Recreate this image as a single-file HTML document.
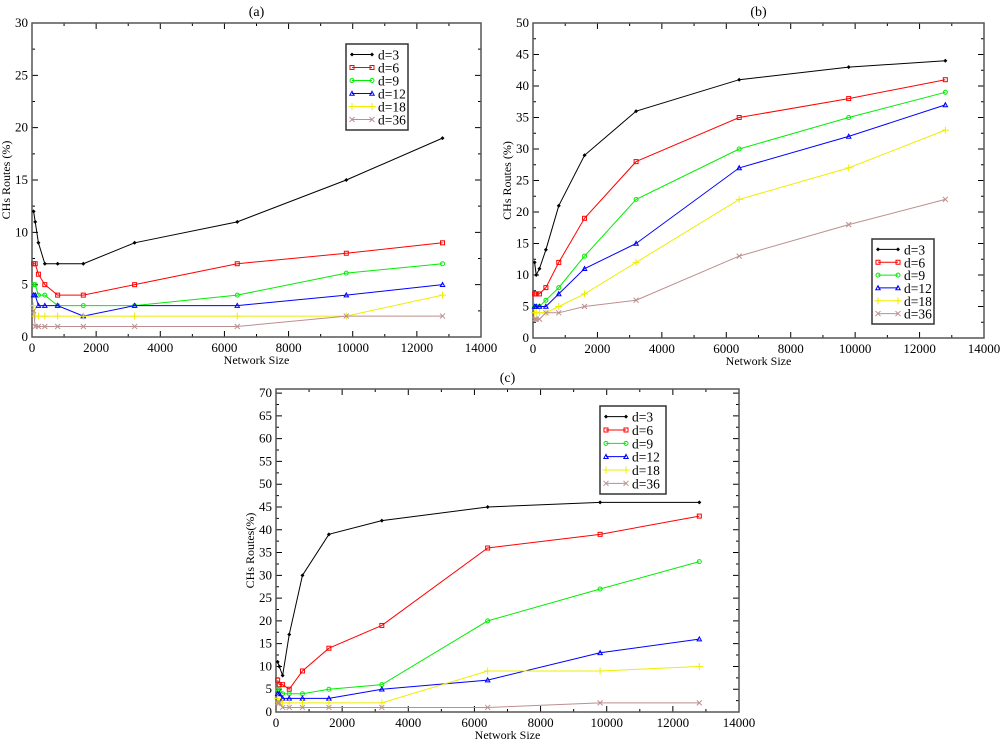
<!DOCTYPE html>
<html><head><meta charset="utf-8"><style>
body{margin:0;background:#fff;width:1000px;height:740px;overflow:hidden}
svg{font-family:"Liberation Serif",serif}
</style></head><body>
<svg id="c" width="1000" height="740"></svg>
<script>
const xValues=[50,100,200,400,800,1600,3200,6400,9800,12800];
const seriesNames=["d=3","d=6","d=9","d=12","d=18","d=36"];
const aD3=[12,11,9,7,7,7,9,11,15,19];
const aD6=[7,7,6,5,4,4,5,7,8,9];
const aD9=[5,5,4,4,3,3,3,4,6.1,7];
const aD12=[4,4,3,3,3,2,3,3,4,5];
const aD18=[3,2,2,2,2,2,2,2,2,4];
const aD36=[2.5,1,1,1,1,1,1,1,2,2];
const bD3=[12,10,11,14,21,29,36,41,43,44];
const bD6=[7,7,7,8,12,19,28,35,38,41];
const bD9=[5,5,5,6,8,13,22,30,35,39];
const bD12=[5,5,5,5,7,11,15,27,32,37];
const bD18=[4,4,4,4,5,7,12,22,27,33];
const bD36=[3,3,3,4,4,5,6,13,18,22];
const cD3=[11,10,8,17,30,39,42,45,46,46];
const cD6=[7,6,6,5,9,14,19,36,39,43];
const cD9=[5,5,4,4,4,5,6,20,27,33];
const cD12=[4,4,3,3,3,3,5,7,13,16];
const cD18=[3,2,2,2,2,2,2,9,9,10];
const cD36=[2,2,1,1,1,1,1,1,2,2];
const xTicks=[0,2000,4000,6000,8000,10000,12000,14000];
const colors=["#000","#f00","#0e0","#00f","#ee0","#bc8f8f"];
const markers=["diamond","square","circle","triangle","plus","cross"];
const NS="http://www.w3.org/2000/svg";
const svg=document.getElementById('c');
function mk(t,a,p){const e=document.createElementNS(NS,t);for(const k in a)e.setAttribute(k,a[k]);(p||svg).appendChild(e);return e;}
function marker(g,m,x,y,c){
 if(m==="diamond")mk('path',{d:`M${x-2},${y}L${x},${y-2}L${x+2},${y}L${x},${y+2}Z`,fill:c},g);
 else if(m==="square")mk('rect',{x:x-2,y:y-2,width:4,height:4,fill:'none',stroke:c},g);
 else if(m==="circle")mk('circle',{cx:x,cy:y,r:2,fill:'none',stroke:c},g);
 else if(m==="triangle")mk('path',{d:`M${x-2.2},${y+1.8}L${x},${y-2.2}L${x+2.2},${y+1.8}Z`,fill:'none',stroke:c},g);
 else if(m==="plus")mk('path',{d:`M${x-3.5},${y}H${x+3.5}M${x},${y-3.5}V${y+3.5}`,stroke:c},g);
 else mk('path',{d:`M${x-2.5},${y-2.5}L${x+2.5},${y+2.5}M${x-2.5},${y+2.5}L${x+2.5},${y-2.5}`,stroke:c},g);
}
function panel(o){
 const g=mk('g',{});
 
 
 const sx=v=>o.l+(v/14000)*(o.r-o.l);
 const sy=v=>o.b-(v/o.ymax)*(o.b-o.t);
 const t=mk('text',{x:(o.l+o.r)/2,y:o.t-7,'text-anchor':'middle','font-size':14},g);t.textContent='('+o.id+')';
 
 for(let v=0;v<=14000;v+=1000){const x=sx(v),L=v%2000?3:6;
  mk('path',{d:`M${x},${o.b}v${-L}M${x},${o.t}v${L}`,stroke:'#000'},g);}
 xTicks.forEach(v=>{const e=mk('text',{x:sx(v),y:o.b+15,'text-anchor':'middle','font-size':13},g);e.textContent=v;
  });
 for(let v=0;v<=o.ymax+0.01;v+=2.5){const y=sy(v),L=(v%5)?3:6;
  mk('path',{d:`M${o.l},${y}h${L}M${o.r},${y}h${-L}`,stroke:'#000'},g);}
 for(let v=0;v<=o.ymax;v+=5){const e=mk('text',{x:o.l-4,y:sy(v)+4,'text-anchor':'end','font-size':13},g);e.textContent=v;
  }
 mk('rect',{x:o.l,y:o.t,width:o.r-o.l,height:o.b-o.t,fill:'none',stroke:'#555','stroke-width':1.5},g);
 const xt=mk('text',{x:(o.l+o.r)/2,y:o.b+27,'text-anchor':'middle','font-size':12},g);xt.textContent='Network Size';
 
 const yc=(o.t+o.b)/2;
 const yt=mk('text',{x:o.l-22,y:yc,'text-anchor':'middle','font-size':12,transform:`rotate(-90 ${o.l-22} ${yc})`},g);yt.textContent=o.ytitle;
 
 o.series.forEach((s,i)=>{
  const sg=mk('g',{},g);
  
  
  mk('polyline',{points:s.map((v,j)=>sx(xValues[j])+','+sy(v)).join(' '),fill:'none',stroke:colors[i],'stroke-width':1},sg);
  s.forEach((v,j)=>marker(sg,markers[i],sx(xValues[j]),sy(v),colors[i]));
 });
 const lg=mk('g',{},g);
 
 
 const [lx,ly,lw,lh]=o.leg;
 mk('rect',{x:lx,y:ly,width:lw,height:lh,fill:'#fff',stroke:'#333','stroke-width':1.5},lg);
 const step=(lh-8)/6;
 seriesNames.forEach((n,i)=>{const y=ly+4+step*(i+0.5);
  const eg=mk('g',{},lg);
  
  
  mk('path',{d:`M${lx+6},${y}h20`,stroke:colors[i]},eg);
  marker(eg,markers[i],lx+6,y,colors[i]);marker(eg,markers[i],lx+26,y,colors[i]);
  const e=mk('text',{x:lx+32,y:y+5,'font-size':13.5},eg);e.textContent=n;});
}
panel({id:'a',l:32,r:481,t:23,b:337,ymax:30,ytitle:'CHs Routes (%)',series:[aD3,aD6,aD9,aD12,aD18,aD36],leg:[346,44,62,86]});
panel({id:'b',l:533,r:984,t:23,b:338,ymax:50,ytitle:'CHs Routes (%)',series:[bD3,bD6,bD9,bD12,bD18,bD36],leg:[872,239,62,85]});
panel({id:'c',l:276,r:739,t:389,b:712,ymax:70.9,ytitle:'CHs Routes(%)',series:[cD3,cD6,cD9,cD12,cD18,cD36],leg:[600,406,66,88]});
</script>
</body></html>
